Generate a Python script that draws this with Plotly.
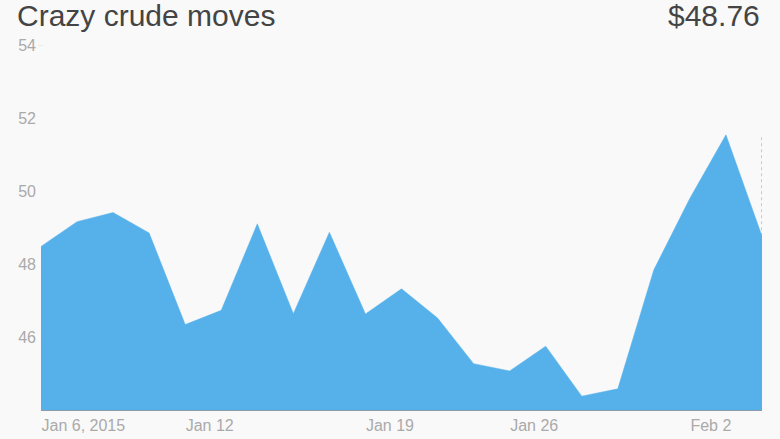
import plotly.graph_objects as go

# Data (crude oil price, USD)
prices = [48.48, 49.16, 49.41, 48.85, 46.34, 46.73, 49.10, 46.64, 48.87, 46.63,
          47.32, 46.52, 45.27, 45.07, 45.75, 44.38, 44.58, 47.84, 49.80, 51.54, 48.76]
points = list(range(len(prices)))          # trading-day index
tick_positions = [0, 4, 9, 13, 18]
tick_labels = ["Jan 6, 2015", "Jan 12", "Jan 19", "Jan 26", "Feb 2"]
y_ticks = [46, 48, 50, 52, 54]
title_text = "Crazy crude moves"
last_price_text = "$48.76"

FONT = "Helvetica Neue, Liberation Sans, Arial, sans-serif"
BG = "#f9f9f9"
FILL = "#56b1ea"

fig = go.Figure()
fig.add_trace(go.Scatter(
    x=points, y=prices, mode="lines", fill="tozeroy",
    fillcolor=FILL, line=dict(color=FILL, width=0.5),
    hoverinfo="skip", showlegend=False,
))

# dotted marker line at the last point
fig.add_shape(type="line", xref="x", yref="y",
              x0=points[-1], x1=points[-1], y0=prices[-1], y1=max(prices),
              line=dict(color="#999999", width=1, dash="dot"))
# small tick stub at top value
fig.add_shape(type="line", xref="paper", yref="y",
              x0=-0.004, x1=0.003, y0=y_ticks[-1], y1=y_ticks[-1],
              line=dict(color="#dddddd", width=1))

fig.add_annotation(text=title_text, xref="paper", yref="paper",
                   x=-0.0355, y=1.08, xanchor="left", yanchor="middle",
                   showarrow=False, font=dict(family=FONT, size=30, color="#444444"))
fig.add_annotation(text=last_price_text, xref="paper", yref="paper",
                   x=1.0, y=1.08, xanchor="right", yanchor="middle",
                   showarrow=False, font=dict(family=FONT, size=30, color="#444444"))

fig.update_layout(
    width=780, height=439,
    margin=dict(l=41, r=18, t=45, b=28.5, pad=0, autoexpand=False),
    paper_bgcolor=BG, plot_bgcolor=BG,
    xaxis=dict(range=[0, 20], tickvals=tick_positions, ticktext=tick_labels,
               ticklabelposition="outside right", ticks="",
               ticklabelstandoff=1, automargin=False,
               showgrid=False, zeroline=False, showline=True,
               linecolor="#8c9bab", linewidth=1,
               tickfont=dict(family=FONT, size=16, color="#aaaaaa"),
               fixedrange=True),
    yaxis=dict(range=[44, 54], tickvals=y_ticks, ticks="",
               ticklabelstandoff=4, automargin=False,
               showgrid=False, zeroline=False, showline=False,
               tickfont=dict(family=FONT, size=16, color="#aaaaaa"),
               fixedrange=True),
)

fig.write_html(
    "out.html",
    config={"displayModeBar": False, "staticPlot": True},
    post_script="document.body.style.margin='0';"
                "document.body.style.background='#f9f9f9';"
                "document.body.style.overflow='hidden';",
)
